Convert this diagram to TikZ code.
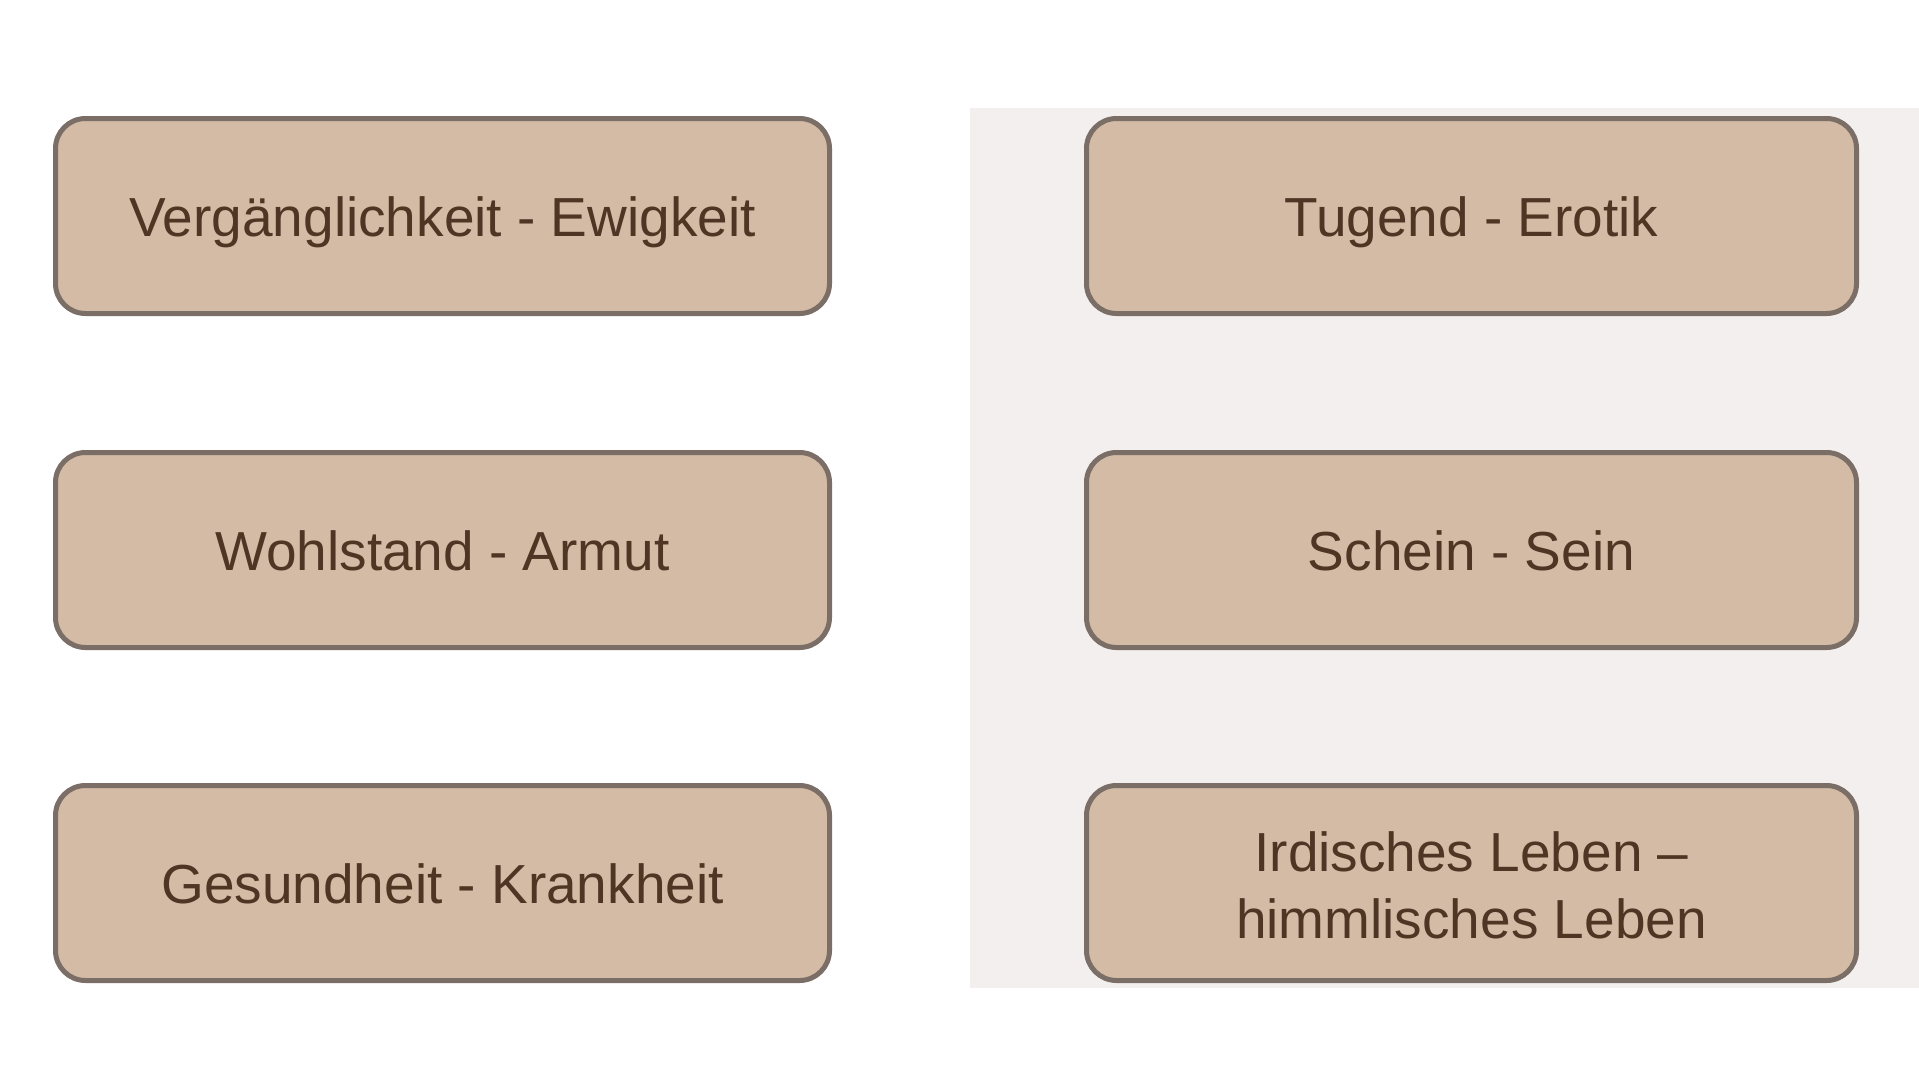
\documentclass[tikz,border=0pt]{standalone}
\usepackage{fontspec}
\setmainfont{Liberation Sans}
\definecolor{boxfill}{HTML}{D3BBA5}
\definecolor{boxline}{HTML}{7A6E67}
\definecolor{textcol}{HTML}{4E3524}
\definecolor{panelbg}{HTML}{F4EFEF}
\begin{document}
\begin{tikzpicture}[x=1pt,y=-1pt,
  box/.style={draw=boxline, line width=5pt, fill=boxfill, rounded corners=30pt,
    minimum height=195pt, inner sep=0pt, text=textcol,
    font=\fontsize{55}{66}\selectfont, text height=40pt, text depth=0pt},
  leftbox/.style={box, minimum width=774pt},
  rightbox/.style={box, minimum width=770pt},
  linetext/.style={text=textcol, font=\fontsize{55}{66}\selectfont, inner sep=0pt, anchor=base}]
\useasboundingbox (0,0) rectangle (1919,1080);
\fill[panelbg] (970,108) rectangle (1919,988);
\node[leftbox] (b1) at (442.5,216) {Vergänglichkeit - Ewigkeit};
\node[leftbox] (b2) at (442.5,550) {Wohlstand - Armut};
\node[leftbox] (b3) at (442.5,883) {Gesundheit - Krankheit};
\node[rightbox] (b4) at (1471.5,216) {Tugend - Erotik};
\node[rightbox] (b5) at (1471.5,550) {Schein - Sein};
\node[rightbox] (b6) at (1471.5,883) {};
\node[linetext] (t6a) at (1471.5,871) {Irdisches Leben –};
\node[linetext] (t6b) at (1471.5,938) {himmlisches Leben};
\end{tikzpicture}
\end{document}
